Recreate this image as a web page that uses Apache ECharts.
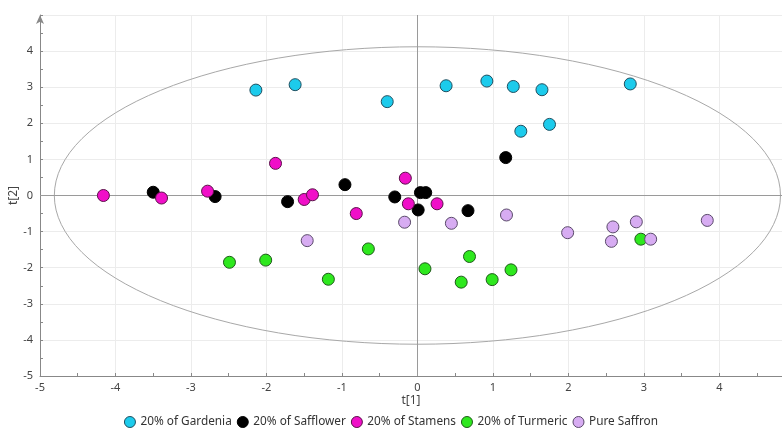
<!DOCTYPE html>
<html>
<head>
<meta charset="utf-8">
<script src="https://cdn.jsdelivr.net/npm/echarts@6/dist/echarts.min.js"></script>
<style>
  html, body { margin: 0; padding: 0; background: #fff; }
  #chart { width: 782px; height: 430px; }
</style>
</head>
<body>
<div id="chart"></div>
<script>
// Score plot: t[1] vs t[2] for each sample group
const seriesNames = ['20% of Gardenia', '20% of Safflower', '20% of Stamens', '20% of Turmeric', 'Pure Saffron'];

const gardenia = [
  [-2.14, 2.92], [-1.62, 3.07], [-0.40, 2.60], [0.38, 3.04], [0.92, 3.17],
  [1.27, 3.02], [1.65, 2.93], [1.37, 1.78], [1.75, 1.97], [2.82, 3.09]
];
const safflower = [
  [-3.50, 0.09], [-2.68, -0.03], [-1.72, -0.17], [-0.96, 0.30], [-0.30, -0.04],
  [0.04, 0.08], [0.11, 0.08], [0.01, -0.40], [0.67, -0.42], [1.17, 1.05]
];
const stamens = [
  [-4.16, 0.00], [-3.39, -0.07], [-2.78, 0.12], [-1.88, 0.89], [-1.50, -0.11],
  [-1.39, 0.02], [-0.81, -0.50], [-0.16, 0.48], [-0.12, -0.23], [0.26, -0.23]
];
const turmeric = [
  [-2.49, -1.85], [-2.01, -1.79], [-1.18, -2.32], [-0.65, -1.48], [0.10, -2.03],
  [0.69, -1.69], [0.58, -2.40], [0.99, -2.33], [1.24, -2.06], [2.96, -1.21]
];
const pureSaffron = [
  [-1.46, -1.25], [-0.17, -0.74], [0.45, -0.77], [1.18, -0.54], [1.99, -1.03],
  [2.59, -0.87], [2.57, -1.27], [2.90, -0.73], [3.09, -1.21], [3.84, -0.69]
];

// Hotelling T2 ellipse: centre and semi-axes in score units
const ellipseCenter = [0, 0];
const ellipseRadii = [4.81, 4.12];

const xRange = [-5, 4.83];
const yRange = [-5, 5];

const fills = ['#1ccbec', '#000000', '#f00fc8', '#2ee81e', '#d7acf2'];
const borders = ['#1f4f60', '#000000', '#5a1048', '#1f5a1a', '#5a4a6a'];
const groups = [gardenia, safflower, stamens, turmeric, pureSaffron];

const FONT = '"Noto Sans", "Open Sans", sans-serif';

const scatterSeries = groups.map((d, i) => ({
  name: seriesNames[i],
  type: 'scatter',
  data: d,
  symbol: 'circle',
  symbolSize: 12,
  z: 5 + i,
  itemStyle: { color: fills[i], borderColor: borders[i], borderWidth: 1, opacity: 1 },
  emphasis: { disabled: true }
}));

const chart = echarts.init(document.getElementById('chart'), null, { renderer: 'canvas' });

chart.setOption({
  animation: false,
  backgroundColor: '#ffffff',
  grid: { left: 40, right: 0, top: 15, bottom: 54, containLabel: false, outerBoundsMode: 'none' },
  legend: {
    data: seriesNames,
    top: 411,
    left: 'center',
    icon: 'circle',
    itemWidth: 11,
    itemHeight: 11,
    itemGap: 5,
    textStyle: { fontFamily: FONT, fontSize: 11.8, color: '#333' },
    itemStyle: { borderWidth: 1 }
  },
  xAxis: {
    type: 'value',
    min: xRange[0],
    max: xRange[1],
    interval: 1,
    name: 't[1]',
    nameLocation: 'middle',
    nameGap: 19,
    nameMoveOverlap: false,
    nameTextStyle: { fontFamily: FONT, fontSize: 12, color: '#444' },
    axisLine: { show: true, onZero: false, lineStyle: { color: '#888', width: 1 } },
    axisTick: { show: true, inside: true, length: 3, lineStyle: { color: '#888' } },
    minorTick: { show: true, splitNumber: 2, length: 3, lineStyle: { color: '#888' } },
    axisLabel: { showMaxLabel: false, fontFamily: FONT, fontSize: 11, color: '#444', margin: 6 },
    splitLine: { show: true, lineStyle: { color: '#ececec', width: 1 } }
  },
  yAxis: {
    type: 'value',
    min: yRange[0],
    max: yRange[1],
    interval: 1,
    name: 't[2]',
    nameLocation: 'middle',
    nameGap: 20,
    nameRotate: 90,
    nameMoveOverlap: false,
    nameTextStyle: { fontFamily: FONT, fontSize: 12, color: '#444' },
    axisLine: { show: true, onZero: false, symbol: ['none', 'arrow'], symbolSize: [6, 9], lineStyle: { color: '#888', width: 1 } },
    axisTick: { show: true, inside: true, length: 3, lineStyle: { color: '#888' } },
    minorTick: { show: true, splitNumber: 2, length: 3, lineStyle: { color: '#888' } },
    axisLabel: {
      showMaxLabel: false,
      fontFamily: FONT, fontSize: 11, color: '#444', margin: 7
    },
    splitLine: { show: true, lineStyle: { color: '#ececec', width: 1 } }
  },
  series: [
    {
      name: 'ellipse',
      type: 'custom',
      silent: true,
      z: 2,
      data: [ellipseCenter.concat(ellipseRadii)],
      encode: { x: 0, y: 1 },
      renderItem: function (params, api) {
        const c = api.coord([api.value(0), api.value(1)]);
        const s = api.size([api.value(2), api.value(3)]);
        const rx = s[0], ry = s[1];
        const p = 'M ' + (c[0] - rx) + ' ' + c[1] +
          ' A ' + rx + ' ' + ry + ' 0 1 0 ' + (c[0] + rx) + ' ' + c[1] +
          ' A ' + rx + ' ' + ry + ' 0 1 0 ' + (c[0] - rx) + ' ' + c[1] + ' Z';
        return {
          type: 'path',
          shape: { pathData: p },
          style: { fill: 'none', stroke: '#a8a8a8', lineWidth: 1 }
        };
      },
      markLine: {
        silent: true,
        symbol: 'none',
        label: { show: false },
        lineStyle: { color: '#9a9a9a', type: 'solid', width: 1 },
        data: [{ xAxis: 0 }, { yAxis: 0 }]
      }
    }
  ].concat(scatterSeries)
});
</script>
</body>
</html>
